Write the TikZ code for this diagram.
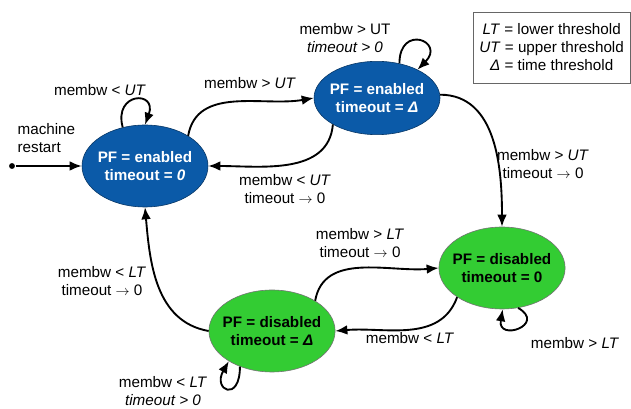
\documentclass[tikz,border=0pt]{standalone}
\usepackage{fontspec}
\setmainfont{Liberation Sans}
\usetikzlibrary{shapes.geometric,arrows.meta}
\definecolor{pfblue}{HTML}{0B5AA8}
\definecolor{pfgreen}{HTML}{33CC33}

\begin{document}
\begin{tikzpicture}[every node/.style={font=\fontsize{13}{15.5}\selectfont, align=center, inner sep=0pt}, >={Latex[length=3.6mm,width=2.9mm]}, line width=1.6pt,
	state/.style={ellipse, line width=0.5pt, minimum width=3.78cm, minimum height=2.46cm, inner xsep=-4pt, font=\fontsize{13}{15.5}\selectfont\bfseries},
	enstate/.style={state, fill=pfblue, draw=pfblue!60!black, text=white},
	disstate/.style={state, fill=pfgreen, draw=black!55}]
	\useasboundingbox (0,0) rectangle (18.93,12.27);
	% states
	\node[enstate] (en0) at (4.35,7.29) {PF = enabled\\timeout = \textit{0}};
	\node[enstate, minimum height=2.2cm] (enD) at (11.31,9.33) {PF = enabled\\timeout = \textit{Δ}};
	\node[disstate] (dis0) at (15.06,4.23) {PF = disabled\\timeout = 0};
	\node[disstate] (disD) at (8.16,2.34) {PF = disabled\\timeout = \textit{Δ}};
	\node[draw=black!60, line width=0.5pt, minimum width=4.71cm, minimum height=2.13cm] (key) at (16.55,10.85) {\textit{LT} = lower threshold\\\textit{UT} = upper threshold\\\textit{Δ} = time threshold};
	% restart
	\node[circle, fill, minimum size=5pt] (start) at (0.36,7.29) {};
	\node[anchor=west, align=left] (restart) at (0.5,8.12) {machine\\restart};
	\draw[->] (start) -- (en0.west);
	% transitions
	\draw[->] (en0.120) .. controls +(105:1.1) and +(70:1.1) .. (en0.90);
	\node (l1) at (3.0,9.57) {membw < \textit{UT}};
	\draw[->] (en0.35) to[out=80, in=190] (enD.west);
	\node (l2) at (7.5,9.78) {membw > \textit{UT}};
	\draw[->] (enD.211) to[out=-95, in=0] (en0.east);
	\node (l3) at (8.55,6.6) {membw < \textit{UT}\\timeout $\rightarrow$ 0};
	\draw[->] (enD.57) .. controls +(90:1.2) and +(45:1.2) .. (enD.35);
	\node (l4) at (10.35,11.13) {membw > UT\\\textit{timeout > 0}};
	\draw[->] (enD.3) to[out=0, in=90] (dis0.north);
	\node (l5) at (16.29,7.34) {membw > \textit{UT}\\timeout $\rightarrow$ 0};
	\draw[->] (dis0.213) to[out=-110, in=5] (disD.east);
	\node (l6) at (12.3,2.13) {membw < \textit{LT}};
	\draw[->] (disD.35) to[out=80, in=185] (dis0.west);
	\node (l7) at (10.8,4.98) {membw > \textit{LT}\\timeout $\rightarrow$ 0};
	\draw[->] (dis0.-68) .. controls +(-30:1) and +(-100:1) .. (dis0.-89);
	\node (l8) at (17.25,1.98) {membw > \textit{LT}};
	\draw[->] (disD.west) to[out=170, in=-85] (en0.south);
	\node (l9) at (3.06,3.84) {membw < \textit{LT}\\timeout $\rightarrow$ 0};
	\draw[->] (disD.228) .. controls +(-90:1.1) and +(240:1) .. (disD.215);
	\node (l10) at (4.89,0.54) {membw < \textit{LT}\\\textit{timeout > 0}};
\end{tikzpicture}
\end{document}
